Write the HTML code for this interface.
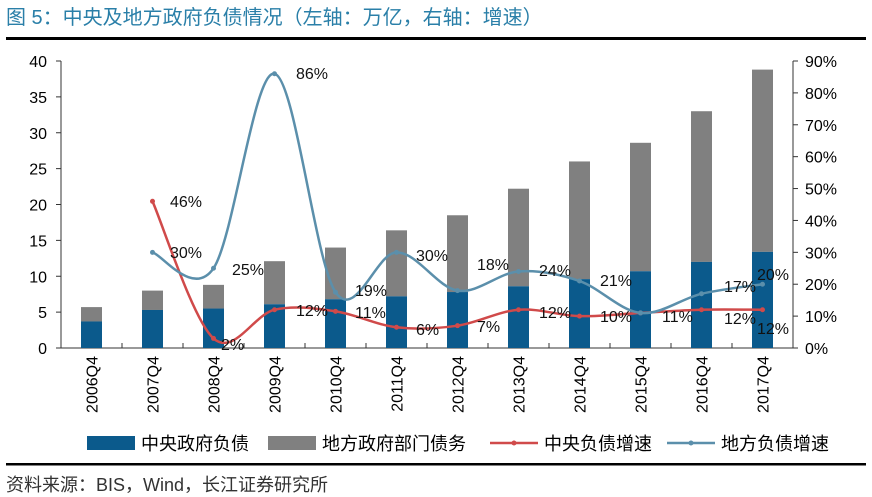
<!DOCTYPE html>
<html><head><meta charset="utf-8"><style>
body{margin:0;background:#fff;width:872px;height:497px;overflow:hidden}
svg{display:block;font-family:"Liberation Sans","Noto Sans CJK SC",sans-serif}
</style></head><body>
<svg id="s" width="872" height="497" xmlns="http://www.w3.org/2000/svg">
<text x="6" y="24" font-size="20" fill="#2a7fa8">图 5：中央及地方政府负债情况（左轴：万亿，右轴：增速）</text>
<rect x="6" y="37" width="860" height="3" fill="#000"/>
<rect x="6" y="463" width="860" height="2.5" fill="#000"/>
<text x="6" y="491" font-size="18" fill="#333">资料来源：BIS，Wind，长江证券研究所</text>
</svg>
<script>
var s=document.getElementById('s'),h='';
var L=61,R=793,T=61,B=348;
function yl(v){return B-(B-T)*v/40}
function yr(v){return B-(B-T)*v/90}
for(var i=0;i<=8;i++){var y=yl(i*5);h+='<line x1="'+(L-5)+'" x2="'+L+'" y1="'+y+'" y2="'+y+'" stroke="#333"/><text x="'+(L-14)+'" y="'+(y+6)+'" font-size="16" text-anchor="end">'+i*5+'</text>';}
for(var i=0;i<=9;i++){var y=yr(i*10);h+='<line x1="'+R+'" x2="'+(R+5)+'" y1="'+y+'" y2="'+y+'" stroke="#333"/><text x="'+(R+12)+'" y="'+(y+6)+'" font-size="16">'+i*10+'%</text>';}
h+='<line x1="'+L+'" x2="'+L+'" y1="'+T+'" y2="'+B+'" stroke="#333"/><line x1="'+R+'" x2="'+R+'" y1="'+T+'" y2="'+B+'" stroke="#333"/><line x1="'+L+'" x2="'+R+'" y1="'+B+'" y2="'+B+'" stroke="#333"/>';
var c=[3.7,5.3,5.5,6.1,6.8,7.2,7.8,8.6,9.6,10.7,12.0,13.4],t=[5.7,8.0,8.8,12.1,14.0,16.4,18.5,22.2,26.0,28.6,33.0,38.8];
var sp=(R-L)/12;
for(var i=0;i<12;i++){var x=L+sp*(i+.5);
h+='<rect x="'+(x-10.5)+'" y="'+yl(t[i])+'" width="21" height="'+(yl(c[i])-yl(t[i]))+'" fill="#808080"/>';
h+='<rect x="'+(x-10.5)+'" y="'+yl(c[i])+'" width="21" height="'+(B-yl(c[i]))+'" fill="#0b5a8c"/>';
if(i<11)h+='<line x1="'+(L+sp*(i+1))+'" x2="'+(L+sp*(i+1))+'" y1="'+B+'" y2="'+(B-5)+'" stroke="#333"/>';
h+='<text transform="translate('+(x+6)+',356) rotate(-90)" font-size="16" text-anchor="end">'+(2006+i)+'Q4</text>';}
function path(v,col){var p=[];for(var i=0;i<v.length;i++)if(v[i]!=null)p.push([L+sp*(i+.5),yr(v[i])]);
var d='M'+p[0][0]+','+p[0][1];for(var i=0;i<p.length-1;i++){var a=p[i-1]||p[i],b=p[i],q=p[i+1],e=p[i+2]||q;
d+=' C'+(b[0]+(q[0]-a[0])/6)+','+(b[1]+(q[1]-a[1])/6)+' '+(q[0]-(e[0]-b[0])/6)+','+(q[1]-(e[1]-b[1])/6)+' '+q[0]+','+q[1];}
var o='<path d="'+d+'" fill="none" stroke="'+col+'" stroke-width="2.5"/>';p.forEach(function(z){o+='<circle cx="'+z[0]+'" cy="'+z[1]+'" r="2.5" fill="'+col+'"/>'});return o;}
h+=path([null,46,3,12,11.5,6.5,7,12,10,11,12,12],'#d04a4a');
h+=path([null,30,25,86,17.5,30,18,24,21,11,17,20],'#5b8fab');
var lb=[[170,207,'46%'],[170,258,'30%'],[232,275,'25%'],[221,350,'2%'],[296,79,'86%'],[296,316,'12%'],[355,296,'19%'],[355,318,'11%'],[416,261,'30%'],[416,335,'6%'],[477,270,'18%'],[477,332,'7%'],[539,276,'24%'],[539,318,'12%'],[600,286,'21%'],[600,322,'10%'],[662,322,'11%'],[724,292,'17%'],[724,324,'12%'],[757,280,'20%'],[757,334,'12%']];
lb.forEach(function(a){h+='<text x="'+a[0]+'" y="'+a[1]+'" font-size="16" fill="#111">'+a[2]+'</text>'});
h+='<rect x="87" y="436" width="48" height="14" fill="#0b5a8c"/><text x="141" y="450" font-size="18">中央政府负债</text>';
h+='<rect x="268" y="436" width="48" height="14" fill="#808080"/><text x="322" y="450" font-size="18">地方政府部门债务</text>';
h+='<line x1="490" x2="538" y1="443" y2="443" stroke="#d04a4a" stroke-width="2.5"/><circle cx="514" cy="443" r="2.5" fill="#d04a4a"/><text x="544" y="450" font-size="18">中央负债增速</text>';
h+='<line x1="667" x2="715" y1="443" y2="443" stroke="#5b8fab" stroke-width="2.5"/><circle cx="691" cy="443" r="2.5" fill="#5b8fab"/><text x="721" y="450" font-size="18">地方负债增速</text>';
s.insertAdjacentHTML('beforeend',h);
</script>
</body></html>
